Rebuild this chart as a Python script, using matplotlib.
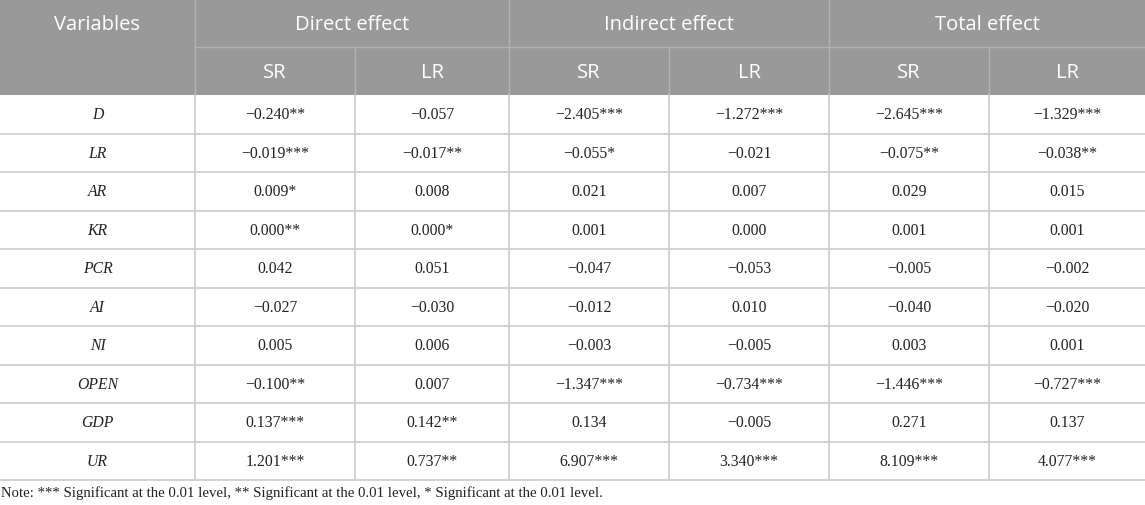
import matplotlib.pyplot as plt

# table content
variables = ['D', 'LR', 'AR', 'KR', 'PCR', 'AI', 'NI', 'OPEN', 'GDP', 'UR']
groups = ['Direct effect', 'Indirect effect', 'Total effect']
sub_cols = ['SR', 'LR']

direct_sr = ['−0.240**', '−0.019***', '0.009*', '0.000**', '0.042', '−0.027', '0.005', '−0.100**', '0.137***', '1.201***']
direct_lr = ['−0.057', '−0.017**', '0.008', '0.000*', '0.051', '−0.030', '0.006', '0.007', '0.142**', '0.737**']
indirect_sr = ['−2.405***', '−0.055*', '0.021', '0.001', '−0.047', '−0.012', '−0.003', '−1.347***', '0.134', '6.907***']
indirect_lr = ['−1.272***', '−0.021', '0.007', '0.000', '−0.053', '0.010', '−0.005', '−0.734***', '−0.005', '3.340***']
total_sr = ['−2.645***', '−0.075**', '0.029', '0.001', '−0.005', '−0.040', '0.003', '−1.446***', '0.271', '8.109***']
total_lr = ['−1.329***', '−0.038**', '0.015', '0.001', '−0.002', '−0.020', '0.001', '−0.727***', '0.137', '4.077***']

note = 'Note: *** Significant at the 0.01 level, ** Significant at the 0.01 level, * Significant at the 0.01 level.'

columns = [direct_sr, direct_lr, indirect_sr, indirect_lr, total_sr, total_lr]

# layout in pixels
W, H = 1145, 506
col_x = [0, 195, 355, 509, 669, 829, 989, 1145]
head1_y, head2_y, body_y = 0, 48, 96
row_h = 38.5

header_bg = '#999999'
header_line = '#b3b3b3'
grid_col = '#cccccc'
text_col = '#222222'

fig = plt.figure(figsize=(W / 100, H / 100), dpi=100)
ax = fig.add_axes([0, 0, 1, 1])
ax.set_xlim(0, W)
ax.set_ylim(H, 0)
ax.axis('off')

# header background
ax.add_patch(plt.Rectangle((0, 0), W, body_y, color=header_bg, lw=0, zorder=0))

# header lines
ax.plot([col_x[1], W], [head2_y, head2_y], color=header_line, lw=1)
for i in (1, 3, 5):
    ax.plot([col_x[i], col_x[i]], [0, body_y], color=header_line, lw=1)
for i in (2, 4, 6):
    ax.plot([col_x[i], col_x[i]], [head2_y, body_y], color=header_line, lw=1)

hfont = dict(family='Open Sans', fontsize=14.5, color='white', ha='center', va='center')
ax.text(col_x[1] / 2, 25, 'Variables', **hfont)
for g, name in enumerate(groups):
    x0, x1 = col_x[1 + 2 * g], col_x[3 + 2 * g]
    ax.text((x0 + x1) / 2, 25, name, **hfont)
    for s, sub in enumerate(sub_cols):
        a, b = col_x[1 + 2 * g + s], col_x[2 + 2 * g + s]
        ax.text((a + b) / 2, 73, sub, **hfont)

# body
n = len(variables)
bottom = body_y + n * row_h
for r in range(1, n + 1):
    y = body_y + r * row_h
    ax.plot([0, W], [y, y], color=grid_col, lw=1.2)
for i in range(1, 7):
    ax.plot([col_x[i], col_x[i]], [body_y, bottom], color=grid_col, lw=1.2)

bfont = dict(family='Liberation Serif', fontsize=11.3, color=text_col, ha='center', va='center')
for r, var in enumerate(variables):
    yc = body_y + (r + 0.5) * row_h
    ax.text(col_x[1] / 2, yc, var, style='italic', **bfont)
    for c, vals in enumerate(columns):
        ax.text((col_x[c + 1] + col_x[c + 2]) / 2, yc, vals[r], **bfont)

ax.text(1, 493, note, family='Liberation Serif', fontsize=10.6, color=text_col,
        ha='left', va='center')

fig.savefig('out.png', dpi=100, facecolor='white')
